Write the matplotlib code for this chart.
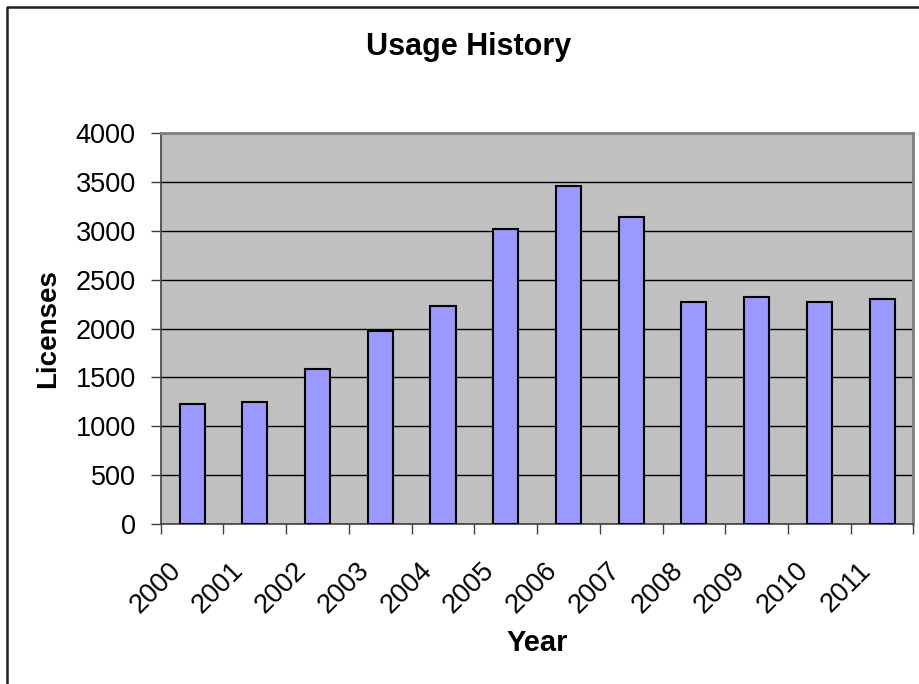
import numpy as np
import matplotlib.pyplot as plt
from matplotlib.lines import Line2D
from matplotlib.transforms import ScaledTranslation

years = ['2000', '2001', '2002', '2003', '2004', '2005',
         '2006', '2007', '2008', '2009', '2010', '2011']
licenses = [1232, 1249, 1590, 1973, 2229, 3024,
            3464, 3143, 2270, 2328, 2270, 2307]
y_ticks = [0, 500, 1000, 1500, 2000, 2500, 3000, 3500, 4000]

plt.rcParams['font.family'] = ['Liberation Sans', 'DejaVu Sans']

W, H = 920, 684
fig = plt.figure(figsize=(W / 100, H / 100), dpi=100)
ax = fig.add_axes([160.7 / W, 1 - 524 / H, (913.5 - 160.7) / W, (524 - 133.3) / H])

x = np.arange(len(years))
ax.set_facecolor('#C0C0C0')
ax.set_axisbelow(True)
ax.yaxis.grid(True, color='black', linewidth=1.0)
ax.bar(x, licenses, width=0.4, color='#9999FF', edgecolor='black', linewidth=1.5, zorder=3)

ax.set_xlim(-0.5, len(years) - 0.5)
ax.set_ylim(0, 4000)
ax.set_yticks(y_ticks)
ax.set_yticklabels([str(v) for v in y_ticks], fontsize=19.5)
ax.tick_params(axis='y', length=7, width=1, color='#404040', pad=11)

# ticks between categories, labels at centres
ax.set_xticks(np.arange(len(years) + 1) - 0.5)
ax.set_xticklabels([])
ax.set_xticks(x, minor=True)
ax.set_xticklabels(years, minor=True, rotation=45, ha='right', fontsize=19.5)
ax.tick_params(axis='x', which='major', length=7, width=1, color='#404040')
ax.tick_params(axis='x', which='minor', length=0, pad=24)
off = ScaledTranslation(-6 / 100, 0, fig.dpi_scale_trans)
for lbl in ax.get_xticklabels(minor=True):
    lbl.set_transform(lbl.get_transform() + off)

for side in ['top', 'right']:
    ax.spines[side].set_color('#808080')
    ax.spines[side].set_linewidth(2)
for side in ['left', 'bottom']:
    ax.spines[side].set_color('#404040')
    ax.spines[side].set_linewidth(1.2)

fig.text(469 / W, 1 - 47 / H, 'Usage History', fontsize=22, fontweight='bold',
         ha='center', va='center')
fig.text(48 / W, 1 - 329 / H, 'Licenses', fontsize=20, fontweight='bold',
         ha='center', va='center', rotation=90)
fig.text(537 / W, 1 - 643 / H, 'Year', fontsize=21, fontweight='bold',
         ha='center', va='center')

# chart frame (top and left edges visible)
fig.add_artist(Line2D([7 / W, 7 / W, 1.0], [0.0, 1 - 7 / H, 1 - 7 / H],
                      transform=fig.transFigure, color='#202020', linewidth=1.8))

fig.savefig('out.png', dpi=100)
